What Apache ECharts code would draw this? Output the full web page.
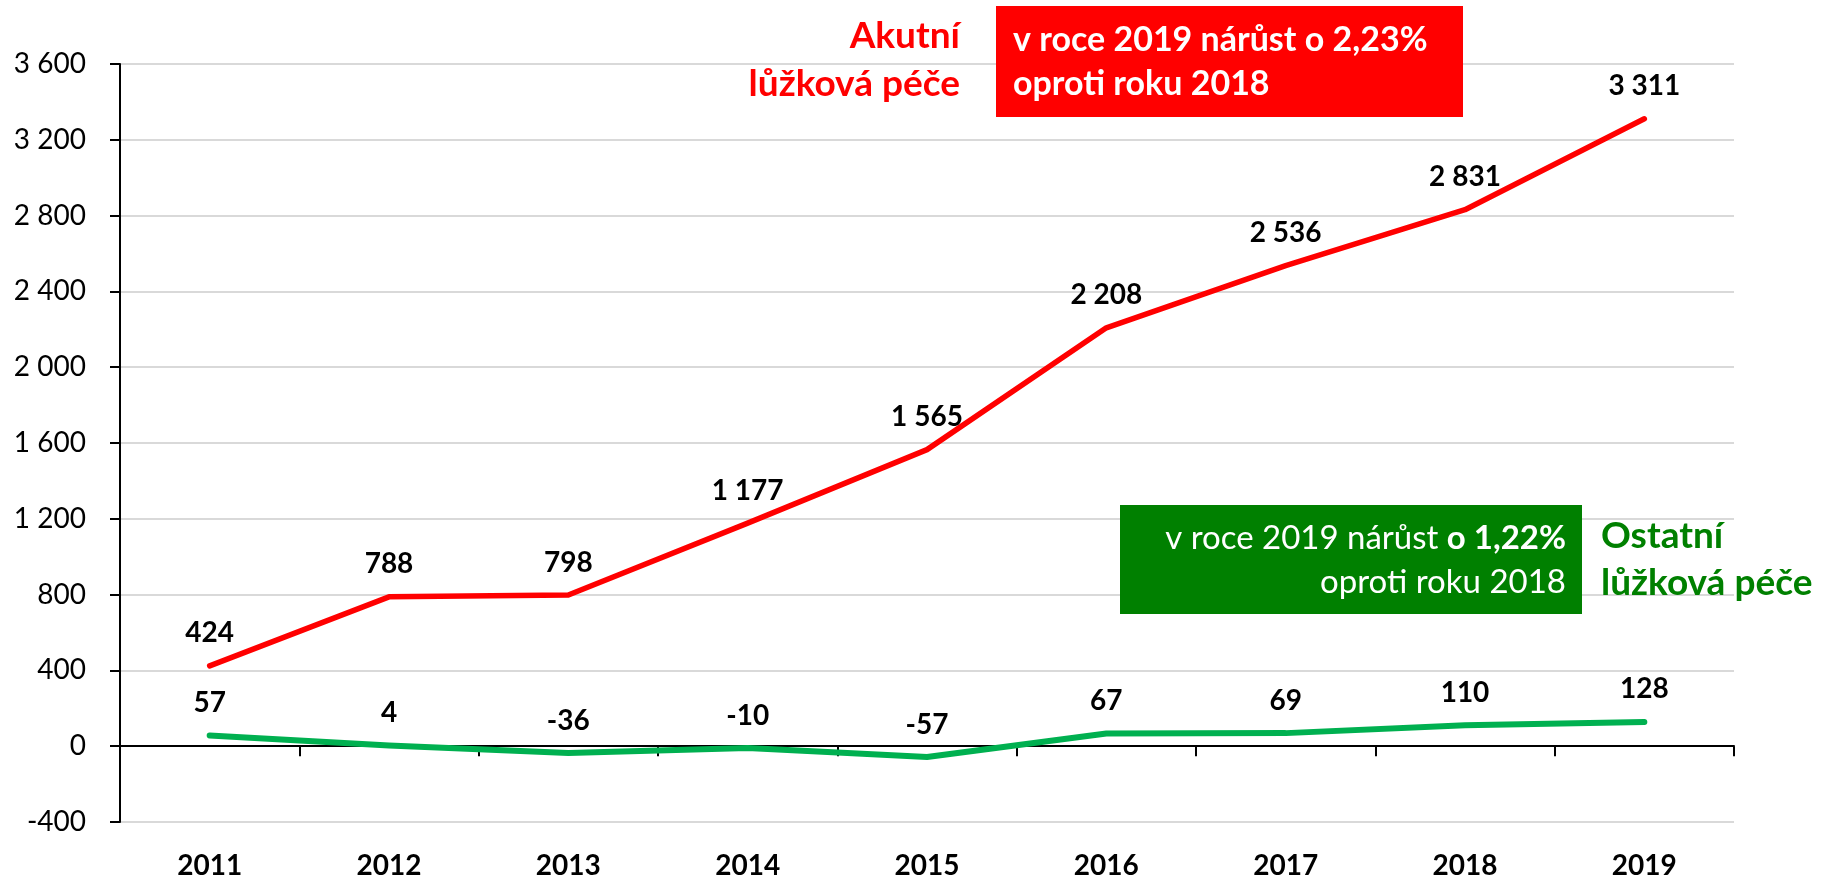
<!DOCTYPE html>
<html>
<head>
<meta charset="utf-8">
<script src="https://cdn.jsdelivr.net/npm/echarts@6/dist/echarts.min.js"></script>
<style>
  html, body { margin: 0; padding: 0; background: #fff; }
  #chart { width: 1835px; height: 880px; }
</style>
</head>
<body>
<div id="chart"></div>
<script>
// data
const years = ['2011', '2012', '2013', '2014', '2015', '2016', '2017', '2018', '2019']
const akutni = [424, 788, 798, 1177, 1565, 2208, 2536, 2831, 3311]   // Akutní lůžková péče
const ostatni = [57, 4, -36, -10, -57, 67, 69, 110, 128]            // Ostatní lůžková péče
const yMin = -400
const yMax = 3600
const yStep = 400

const FONT = 'Lato'

// "3 600" style thousands separator
function fmt(v) {
  return String(v).replace(/\B(?=(\d{3})+(?!\d))/g, ' ')
}

let myChart = echarts.init(document.getElementById('chart'))

let option = {
  animation: false,
  textStyle: { fontFamily: FONT },
  grid: { left: 120, right: 101, top: 64, bottom: 55 },
  xAxis: [
    {
      // labels only, kept at the bottom
      type: 'category',
      data: years,
      position: 'bottom',
      axisLine: { show: false, onZero: false },
      axisTick: { show: false },
      axisLabel: { color: '#000', fontSize: 28, fontWeight: 'bold', margin: 30, fontFamily: FONT },
      splitLine: { show: false }
    },
    {
      // the black zero line with ticks
      type: 'category',
      data: years,
      position: 'bottom',
      axisLine: { show: true, onZero: true, lineStyle: { color: '#000', width: 2 } },
      axisTick: { show: true, length: 10, lineStyle: { color: '#000', width: 2 } },
      axisLabel: { show: false },
      splitLine: { show: false }
    }
  ],
  yAxis: {
    type: 'value',
    min: yMin,
    max: yMax,
    interval: yStep,
    axisLine: { show: true, lineStyle: { color: '#000', width: 2 } },
    axisTick: { show: true, length: 10, lineStyle: { color: '#000', width: 2 } },
    axisLabel: { color: '#000', fontSize: 28, margin: 34, formatter: fmt, fontFamily: FONT },
    splitLine: { show: true, lineStyle: { color: '#d9d9d9', width: 2 } }
  },
  series: [
    {
      type: 'line',
      name: 'Akutní lůžková péče',
      data: akutni,
      xAxisIndex: 0,
      symbol: 'circle',
      symbolSize: 1,
      itemStyle: { color: '#ff0000' },
      lineStyle: { color: '#ff0000', width: 5.5, cap: 'round', join: 'round' },
      label: {
        show: true, position: 'top', distance: 18,
        color: '#000', fontSize: 28, fontWeight: 'bold', fontFamily: FONT,
        formatter: p => fmt(p.value)
      },
      z: 3
    },
    {
      type: 'line',
      name: 'Ostatní lůžková péče',
      data: ostatni,
      xAxisIndex: 0,
      symbol: 'circle',
      symbolSize: 1,
      itemStyle: { color: '#00b050' },
      lineStyle: { color: '#00b050', width: 6, cap: 'round', join: 'round' },
      label: {
        show: true, position: 'top', distance: 18,
        color: '#000', fontSize: 28, fontWeight: 'bold', fontFamily: FONT,
        formatter: p => fmt(p.value)
      },
      z: 3
    }
  ],
  graphic: [
    {
      type: 'text', x: 960, y: 60, z: 10,
      style: {
        text: 'Akutní\nlůžková péče',
        fill: '#ff0000', font: 'bold 37px ' + FONT, lineHeight: 48,
        textAlign: 'right', textVerticalAlign: 'middle', align: 'right', verticalAlign: 'middle'
      }
    },
    {
      type: 'rect', z: 9,
      shape: { x: 996, y: 6, width: 467, height: 111 },
      style: { fill: '#ff0000' }
    },
    {
      type: 'text', x: 1013, y: 62, z: 10,
      style: {
        text: 'v roce 2019 nárůst o 2,23%\noproti roku 2018',
        fill: '#fff', font: 'bold 34px ' + FONT, lineHeight: 44,
        textAlign: 'left', textVerticalAlign: 'middle', align: 'left', verticalAlign: 'middle'
      }
    },
    {
      type: 'rect', z: 9,
      shape: { x: 1120, y: 505, width: 462, height: 109 },
      style: { fill: '#008000' }
    },
    {
      type: 'text', x: 1566, y: 560, z: 10,
      style: {
        text: '{r|v roce 2019 nárůst }{b|o 1,22%}\n{r|oproti roku 2018}',
        textAlign: 'right', textVerticalAlign: 'middle', align: 'right', verticalAlign: 'middle',
        rich: {
          r: { fill: '#fff', fontSize: 33, fontFamily: FONT, lineHeight: 44 },
          b: { fill: '#fff', fontSize: 33, fontWeight: 'bold', fontFamily: FONT, lineHeight: 44 }
        }
      }
    },
    {
      type: 'text', x: 1601, y: 560, z: 10,
      style: {
        text: 'Ostatní\nlůžková péče',
        fill: '#008000', font: 'bold 37px ' + FONT, lineHeight: 47,
        textAlign: 'left', textVerticalAlign: 'middle', align: 'left', verticalAlign: 'middle'
      }
    }
  ]
}

myChart.setOption(option)
</script>
</body>
</html>
